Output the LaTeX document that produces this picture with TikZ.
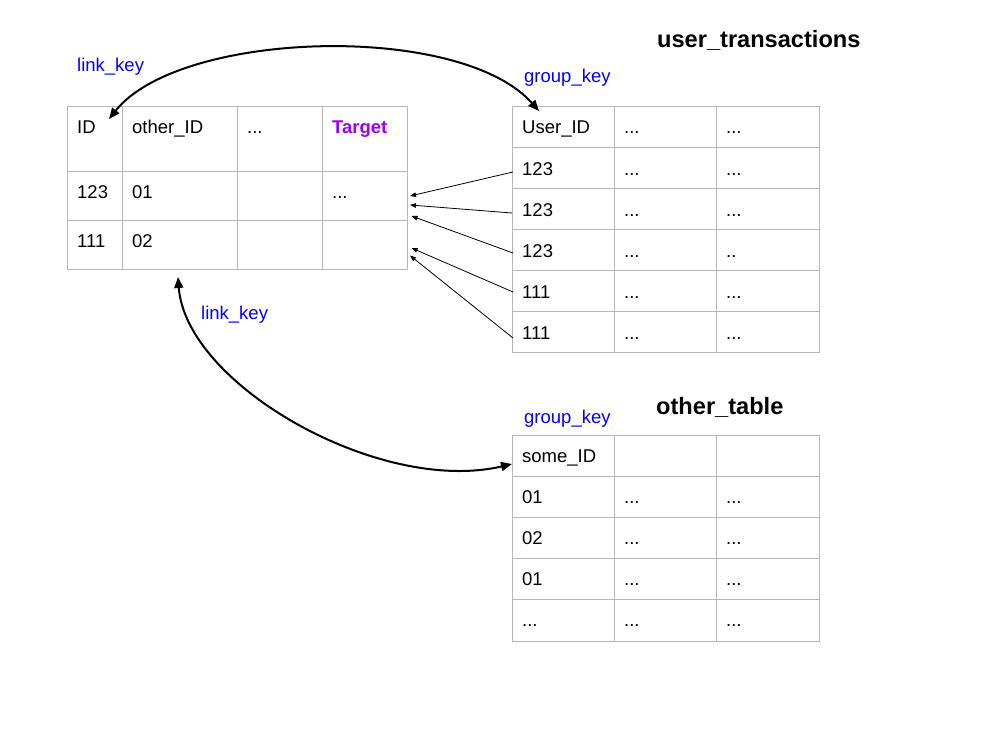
\documentclass[tikz,border=0pt]{standalone}
\usepackage{fontspec}
\setmainfont{Liberation Sans}
\usetikzlibrary{arrows.meta}
\definecolor{keyblue}{HTML}{0000FF}
\definecolor{tgtpurple}{HTML}{9900FF}
\definecolor{gridgray}{HTML}{B7B7B7}
\tikzset{
  gridline/.style={draw=gridgray, line width=1pt},
  cell/.style={anchor=base west, inner sep=0pt, font=\fontsize{18.5}{22}\selectfont},
  tabtitle/.style={anchor=base west, inner sep=0pt, font=\fontsize{23.6}{28}\selectfont\bfseries},
  keylbl/.style={cell, text=keyblue},
  thinarrow/.style={draw=black, line width=0.8pt, -{Triangle[length=6pt,width=4.5pt]}},
  thickarrow/.style={draw=black, line width=2pt, {Triangle[length=11pt,width=9pt]}-{Triangle[length=11pt,width=9pt]}}
}
\begin{document}
\begin{tikzpicture}[x=1pt,y=-1pt]
\useasboundingbox (0,0) rectangle (997,754);
\fill[white] (0,0) rectangle (997,754);

% ---------- left table ----------
\draw[gridline] (67,107) rectangle (407,270);
\foreach \x in {122,237,322} \draw[gridline] (\x,107) -- (\x,270);
\foreach \y in {172,221} \draw[gridline] (67,\y) -- (407,\y);

\node[cell] (lID) at (77,134) {ID};
\node[cell] (lOther) at (132,134) {other\_ID};
\node[cell] (lDots) at (247,134) {...};
\node[cell, font=\fontsize{18.5}{22}\selectfont\bfseries, text=tgtpurple] (lTarget) at (332,134) {Target};
\node[cell] (l21) at (77,199) {123};
\node[cell] (l22) at (132,199) {01};
\node[cell] (l24) at (332,199) {...};
\node[cell] (l31) at (77,248) {111};
\node[cell] (l32) at (132,248) {02};

% ---------- user_transactions ----------
\node[tabtitle] (utTitle) at (657,48) {user\_transactions};
\draw[gridline] (512,107) rectangle (819,353);
\foreach \x in {614,716} \draw[gridline] (\x,107) -- (\x,353);
\foreach \y in {148,189,230,271,312} \draw[gridline] (512,\y) -- (819,\y);

\node[cell] (uH1) at (522,134) {User\_ID};
\node[cell] (uH2) at (624,134) {...};
\node[cell] (uH3) at (726,134) {...};
\node[cell] (u11) at (522,175.5) {123};
\node[cell] (u12) at (624,175.5) {...};
\node[cell] (u13) at (726,175.5) {...};
\node[cell] (u21) at (522,216.5) {123};
\node[cell] (u22) at (624,216.5) {...};
\node[cell] (u23) at (726,216.5) {...};
\node[cell] (u31) at (522,257.5) {123};
\node[cell] (u32) at (624,257.5) {...};
\node[cell] (u33) at (726,257.5) {..};
\node[cell] (u41) at (522,298.5) {111};
\node[cell] (u42) at (624,298.5) {...};
\node[cell] (u43) at (726,298.5) {...};
\node[cell] (u51) at (522,339.5) {111};
\node[cell] (u52) at (624,339.5) {...};
\node[cell] (u53) at (726,339.5) {...};

% ---------- other_table ----------
\node[tabtitle] (otTitle) at (656,414) {other\_table};
\draw[gridline] (512,435) rectangle (819,641);
\foreach \x in {614,716} \draw[gridline] (\x,435) -- (\x,641);
\foreach \y in {476,517,558,599} \draw[gridline] (512,\y) -- (819,\y);

\node[cell] (oH1) at (522,462.5) {some\_ID};
\node[cell] (o11) at (522,503.5) {01};
\node[cell] (o12) at (624,503.5) {...};
\node[cell] (o13) at (726,503.5) {...};
\node[cell] (o21) at (522,544.5) {02};
\node[cell] (o22) at (624,544.5) {...};
\node[cell] (o23) at (726,544.5) {...};
\node[cell] (o31) at (522,585.5) {01};
\node[cell] (o32) at (624,585.5) {...};
\node[cell] (o33) at (726,585.5) {...};
\node[cell] (o41) at (522,626.5) {...};
\node[cell] (o42) at (624,626.5) {...};
\node[cell] (o43) at (726,626.5) {...};

% ---------- key labels ----------
\node[keylbl] (lk1) at (77,71.5) {link\_key};
\node[keylbl] (gk1) at (524,83) {group\_key};
\node[keylbl] (lk2) at (201,320) {link\_key};
\node[keylbl] (gk2) at (524,423) {group\_key};

% ---------- thin arrows ----------
\coordinate (s1) at (513,172);
\coordinate (s2) at (512,213);
\coordinate (s3) at (513,253);
\coordinate (s4) at (513,292);
\coordinate (s5) at (513,338);
\coordinate (e1) at (410,196);
\coordinate (e2) at (410,205);
\coordinate (e3) at (411.5,216);
\coordinate (e4) at (411.5,248);
\coordinate (e5) at (410,255.5);
\foreach \i in {1,...,5} \draw[thinarrow] (s\i) -- (e\i);

% ---------- thick curved arrows ----------
\coordinate (idEnd) at (109,119);
\coordinate (uidEnd) at (539,111);
\draw[thickarrow] (idEnd) .. controls (180,30) and (460,22) .. (uidEnd);

\coordinate (otherEnd) at (178,277);
\coordinate (someEnd) at (512,464);
\draw[thickarrow] (otherEnd) .. controls (186,385) and (380,495) .. (someEnd);
\end{tikzpicture}
\end{document}
